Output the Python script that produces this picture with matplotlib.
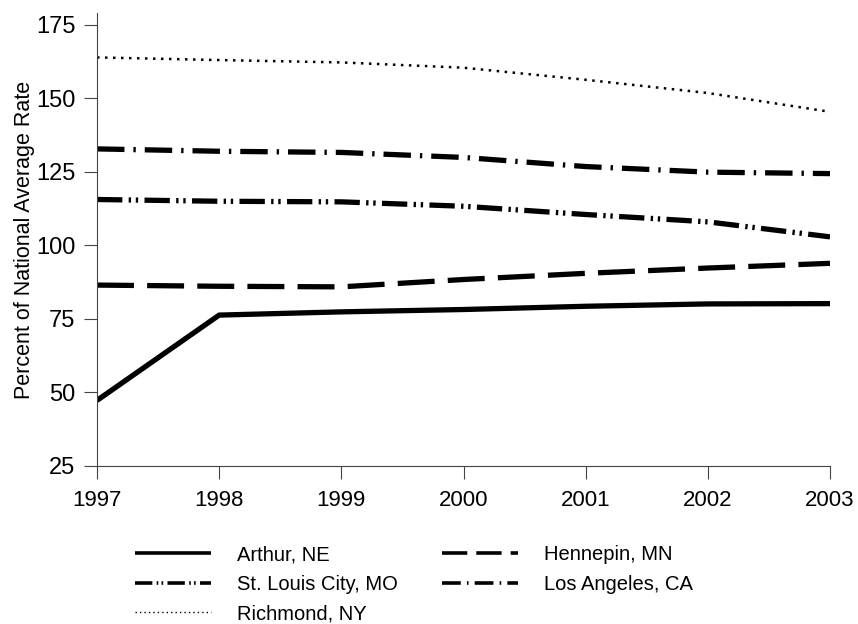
import matplotlib
matplotlib.use("Agg")
import matplotlib.pyplot as plt

plt.rcParams['font.family'] = ['Liberation Sans', 'DejaVu Sans']

years = [1997, 1998, 1999, 2000, 2001, 2002, 2003]
arthur = [47.3, 76.3, 77.4, 78.2, 79.3, 80.1, 80.2]
hennepin = [86.5, 86.1, 85.9, 88.4, 90.5, 92.3, 93.9]
st_louis = [115.6, 115.0, 114.8, 113.3, 110.5, 108.0, 102.9]
los_angeles = [132.8, 132.0, 131.6, 129.9, 126.8, 124.9, 124.4]
richmond = [163.9, 163.0, 162.2, 160.4, 156.3, 151.8, 145.4]

y_ticks = [25, 50, 75, 100, 125, 150, 175]

fig = plt.figure(figsize=(8.58, 6.24), dpi=100)
ax = fig.add_axes([97/858, 1-466/624, (830-97)/858, (466-13)/624])

lw = 3.8
l_arthur, = ax.plot(years, arthur, color='black', lw=lw, solid_capstyle='butt',
                    solid_joinstyle='miter', label='Arthur, NE')
l_henn, = ax.plot(years, hennepin, color='black', lw=lw, dashes=(7.0, 2.5),
                  dash_capstyle='butt', label='Hennepin, MN')
l_stl, = ax.plot(years, st_louis, color='black', lw=lw,
                 dashes=(4.8, 1.2, 0.45, 0.9, 0.45, 1.2), dash_capstyle='butt',
                 label='St. Louis City, MO')
l_la, = ax.plot(years, los_angeles, color='black', lw=lw,
                dashes=(5.2, 1.7, 0.45, 1.7), dash_capstyle='butt',
                label='Los Angeles, CA')
l_rich, = ax.plot(years, richmond, color='black', lw=1.8,
                  dashes=(1.0, 2.2), dash_capstyle='butt', label='Richmond, NY')

ax.set_xlim(1997, 2003)
ax.set_ylim(25, 179)
ax.set_yticks(y_ticks)
ax.set_xticks(years)
ax.set_xticklabels([str(y) for y in years])
for s in ['top', 'right']:
    ax.spines[s].set_visible(False)
for s in ['left', 'bottom']:
    ax.spines[s].set_linewidth(0.8)
    ax.spines[s].set_color('#444444')
ax.tick_params(axis='both', direction='out', length=9.5, width=0.8,
               color='#444444')
ax.tick_params(axis='y', pad=6, labelsize=17)
ax.tick_params(axis='x', pad=8, labelsize=16)
ax.set_ylabel('Percent of National Average Rate', fontsize=15.5, labelpad=1)

handles = [l_arthur, l_stl, l_rich, l_henn, l_la]
leg = fig.legend(handles=handles, labels=[h.get_label() for h in handles],
                 ncol=2, loc='upper left', bbox_to_anchor=(117/858, 1-527/624),
                 frameon=False, fontsize=14.5, handlelength=3.75,
                 handletextpad=1.3, columnspacing=2.2, labelspacing=0.52)
for h in leg.legend_handles:
    if h.get_linewidth() > 2:
        h.set_linewidth(2.6)
    else:
        h.set_linewidth(1.0)

fig.savefig('out.png', dpi=100)
